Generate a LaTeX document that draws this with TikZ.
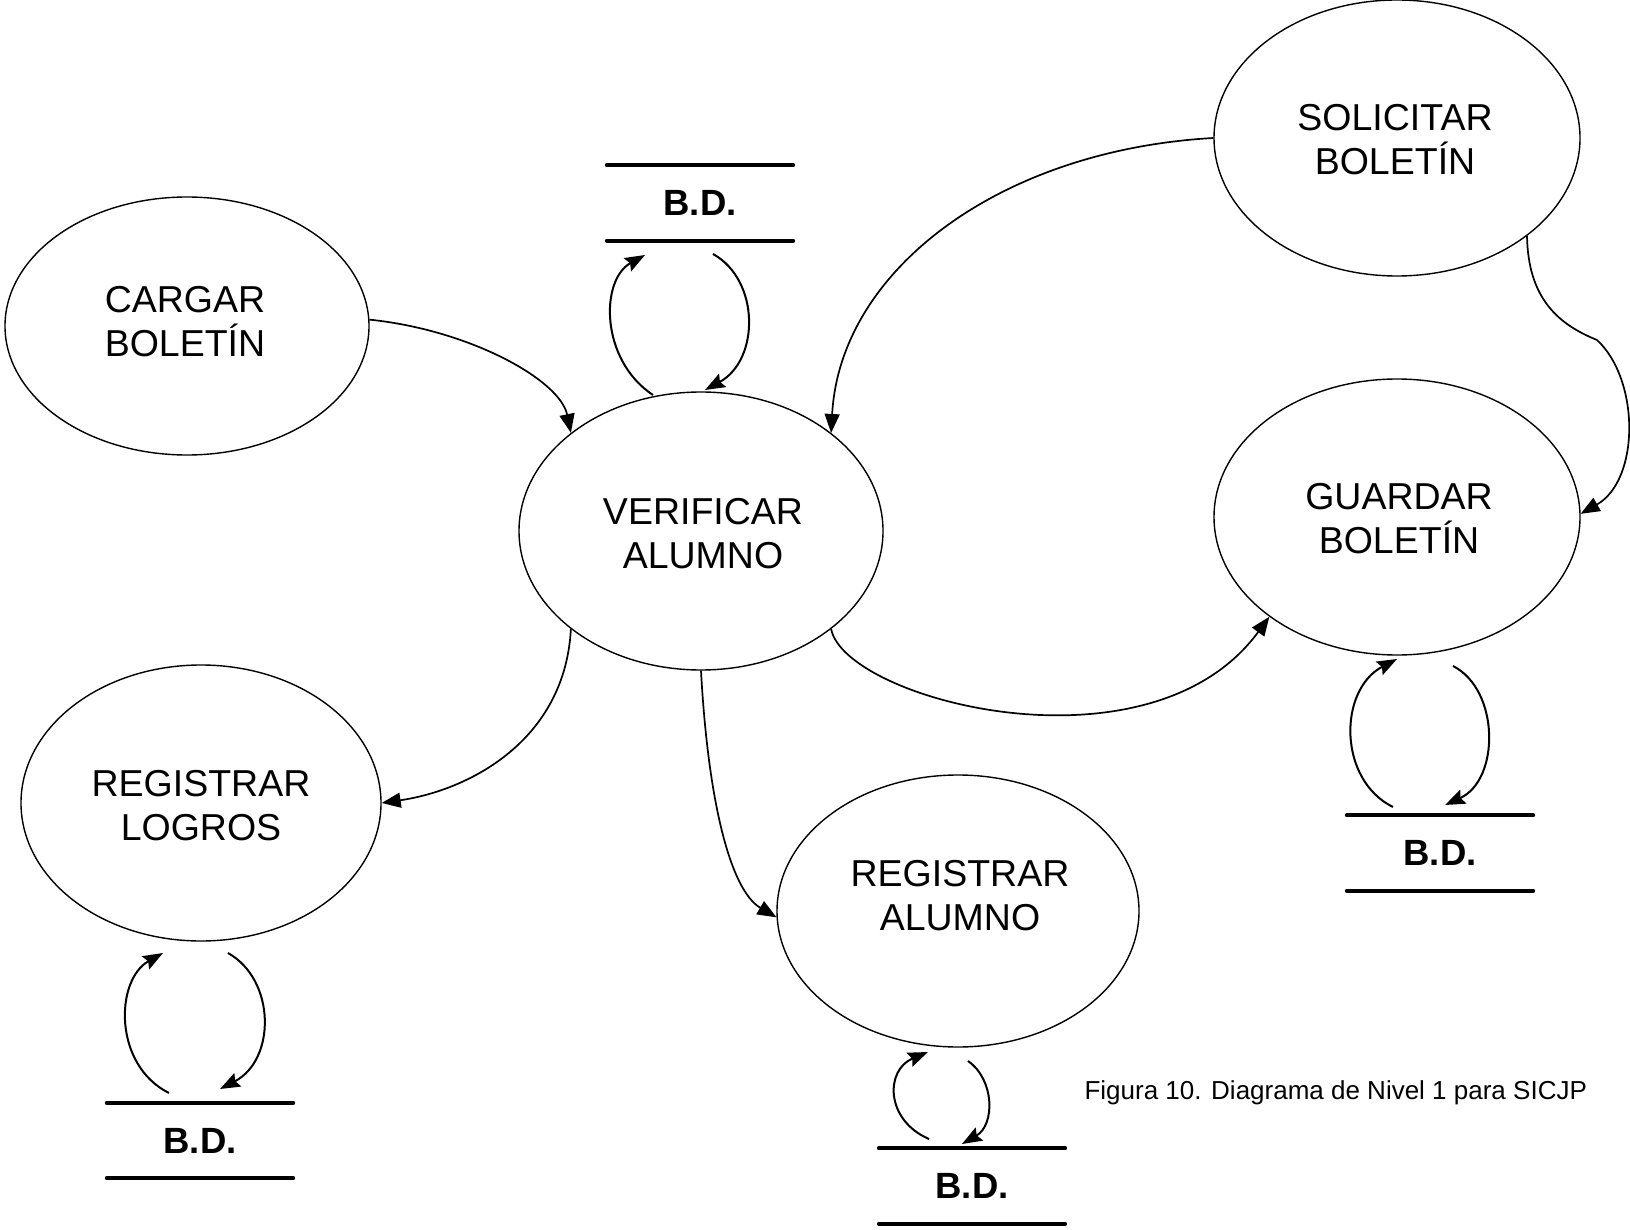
\documentclass[tikz,border=0pt]{standalone}
\usepackage{fontspec}
\setmainfont{Liberation Sans}
\usetikzlibrary{shapes.geometric,arrows.meta}
\begin{document}
\begin{tikzpicture}[x=1pt,y=-1pt,
  proc/.style={draw,ellipse,line width=1.4pt,inner sep=0pt},
  ptext/.style={align=center,font=\fontsize{37.5}{44}\selectfont},
  store/.style={minimum width=186pt,minimum height=75pt,inner sep=0pt,
    font=\fontsize{36.5}{40}\selectfont\bfseries},
  storeline/.style={line width=4pt,line cap=round},
  flow/.style={line width=1.7pt,-{Triangle[length=19pt,width=15pt]}},
  loop/.style={line width=2pt,-{Stealth[length=20pt,width=15pt,inset=3pt]}}]
\useasboundingbox (0,0) rectangle (1630,1230);

% processes
\node[proc,minimum width=364pt,minimum height=258pt] (cb) at (187,326) {};
\node[ptext] at (185,322) {CARGAR\\BOLETÍN};
\node[proc,minimum width=364pt,minimum height=278pt] (va) at (701,531) {};
\node[ptext] at (703,534) {VERIFICAR\\ALUMNO};
\node[proc,minimum width=366pt,minimum height=276pt] (sb) at (1397,138) {};
\node[ptext] at (1395,140) {SOLICITAR\\BOLETÍN};
\node[proc,minimum width=366pt,minimum height=276pt] (gb) at (1397,517) {};
\node[ptext] at (1399,519) {GUARDAR\\BOLETÍN};
\node[proc,minimum width=360pt,minimum height=276pt] (rl) at (201,803) {};
\node[ptext] at (201,806) {REGISTRAR\\LOGROS};
\node[proc,minimum width=362pt,minimum height=272pt] (ra) at (958,911) {};
\node[ptext] at (960,896) {REGISTRAR\\ALUMNO};

% data stores
\node[store] (d1) at (700,203) {B.D.};
\node[store] (d2) at (1440,853) {B.D.};
\node[store] (d3) at (200,1140.5) {B.D.};
\node[store] (d4) at (972,1186) {B.D.};
\foreach \s in {d1,d2,d3,d4}{
  \draw[storeline] (\s.north west) -- (\s.north east);
  \draw[storeline] (\s.south west) -- (\s.south east);
}

% flows between processes
\draw[flow] (cb.2) .. controls (470,330) and (560,380) .. (va.143);
\draw[flow] (sb.180) .. controls (1000,150) and (840,270) .. (va.37);
\draw[flow] (sb.-37) .. controls (1528,300) and (1560,325) .. (1597,340)
  .. controls (1640,380) and (1640,480) .. (gb.1);
\draw[flow] (va.217) .. controls (565,740) and (470,790) .. (rl.0);
\draw[flow] (va.270) .. controls (708,800) and (730,890) .. (ra.182);
\draw[flow] (va.-37) .. controls (845,700) and (1150,780) .. (gb.218);

% read/write loops with the stores
\coordinate (v1) at (653,395); \coordinate (s1) at (645,255);
\coordinate (s1b) at (713,254); \coordinate (v1b) at (705,390);
\draw[loop] (v1) .. controls (600,360) and (600,280) .. (s1);
\draw[loop] (s1b) .. controls (760,280) and (760,360) .. (v1b);

\coordinate (s2) at (1393,807); \coordinate (g2) at (1397,659);
\coordinate (g2b) at (1453,666); \coordinate (s2b) at (1445,805);
\draw[loop] (s2) .. controls (1338,780) and (1338,690) .. (g2);
\draw[loop] (g2b) .. controls (1500,690) and (1500,780) .. (s2b);

\coordinate (s3) at (169,1093); \coordinate (l3) at (163,953);
\coordinate (l3b) at (228,953); \coordinate (s3b) at (220,1089);
\draw[loop] (s3) .. controls (113,1065) and (115,980) .. (l3);
\draw[loop] (l3b) .. controls (276,980) and (276,1060) .. (s3b);

\coordinate (s4) at (929,1139); \coordinate (a4) at (928,1052);
\coordinate (a4b) at (968,1061); \coordinate (s4b) at (962,1144);
\draw[loop] (s4) .. controls (885,1120) and (885,1070) .. (a4);
\draw[loop] (a4b) .. controls (995,1080) and (995,1125) .. (s4b);

% caption
\node[font=\fontsize{26}{30}\selectfont,anchor=west] (cap) at (1081,1093)
  {Figura 10. Diagrama de Nivel 1 para SICJP};
\end{tikzpicture}
\end{document}
